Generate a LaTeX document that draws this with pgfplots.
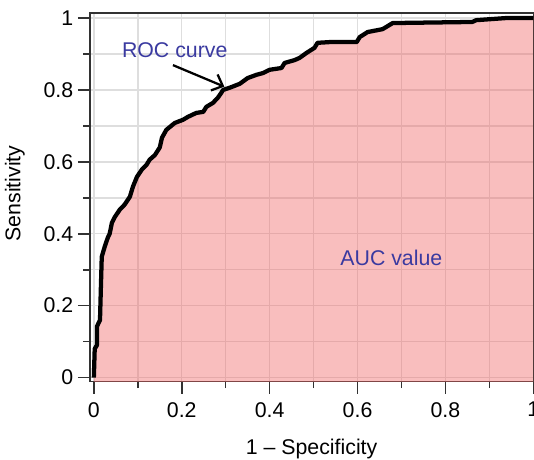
\documentclass[border=0pt]{standalone}
\usepackage{fontspec}
\setmainfont{Liberation Sans}
\usepackage{pgfplots}
\pgfplotsset{compat=1.18}
\usetikzlibrary{arrows.meta}

\definecolor{aucfill}{RGB}{240,100,100}
\definecolor{labelblue}{RGB}{58,58,160}
\definecolor{gridgray}{RGB}{222,222,222}
\definecolor{framegray}{RGB}{50,50,50}

\begin{document}
\begin{tikzpicture}
\begin{axis}[
    scale only axis,
    width=333pt, height=276.75pt,
    xmin=-0.009, xmax=1.0,
    ymin=-0.011, ymax=1.014,
    xtick={0,0.2,0.4,0.6,0.8,1},
    ytick={0,0.2,0.4,0.6,0.8,1},
    minor x tick num=1, minor y tick num=1,
    xtick pos=lower, ytick pos=left,
    tick align=outside,
    major tick length=9pt, minor tick length=5pt,
    every tick/.style={line width=1.2pt, color=framegray},
    grid=both,
    major grid style={gridgray, line width=1.1pt},
    minor grid style={gridgray, line width=1.1pt},
    axis line style={framegray, line width=1.2pt},
    /pgf/number format/assume math mode=true,
    tick label style={font=\fontsize{16}{19}\selectfont},
    xticklabel style={yshift=-3pt},
    label style={font=\fontsize{16}{19}\selectfont},
    xlabel={1 -- Specificity},
    ylabel={Sensitivity},
    xlabel style={at={(axis description cs:0.5,-0.198)}, anchor=base},
    ylabel style={at={(axis description cs:-0.169,0.51)}, anchor=center},
    clip=true,
]
% shaded area under the ROC curve
\addplot[fill=aucfill, fill opacity=0.42, draw=none] coordinates {
    (0,-0.03) (0,0) (0.002,0.08) (0.007,0.09) (0.007,0.142) (0.014,0.16)
    (0.016,0.25) (0.018,0.336) (0.025,0.365) (0.032,0.39) (0.036,0.40)
    (0.041,0.43) (0.048,0.447) (0.059,0.467) (0.070,0.481) (0.082,0.503)
    (0.089,0.531) (0.098,0.558) (0.109,0.578) (0.120,0.592) (0.127,0.606)
    (0.139,0.619) (0.150,0.64) (0.155,0.667) (0.165,0.689) (0.184,0.708)
    (0.203,0.717) (0.214,0.725) (0.233,0.736) (0.249,0.739) (0.256,0.753)
    (0.271,0.764) (0.282,0.778) (0.290,0.792) (0.294,0.8) (0.309,0.806)
    (0.332,0.817) (0.350,0.833) (0.370,0.842) (0.385,0.847) (0.400,0.856)
    (0.427,0.861) (0.434,0.875) (0.457,0.883) (0.468,0.889) (0.484,0.903)
    (0.502,0.917) (0.509,0.931) (0.536,0.933) (0.598,0.933) (0.605,0.947)
    (0.623,0.961) (0.657,0.969) (0.680,0.986) (0.861,0.989) (0.870,0.994)
    (0.939,1.0) (1,1) (1,-0.03)
} -- cycle;
% ROC curve
\addplot[black, line width=3.2pt, line join=round] coordinates {
    (0,0) (0.002,0.08) (0.007,0.09) (0.007,0.142) (0.014,0.16)
    (0.016,0.25) (0.018,0.336) (0.025,0.365) (0.032,0.39) (0.036,0.40)
    (0.041,0.43) (0.048,0.447) (0.059,0.467) (0.070,0.481) (0.082,0.503)
    (0.089,0.531) (0.098,0.558) (0.109,0.578) (0.120,0.592) (0.127,0.606)
    (0.139,0.619) (0.150,0.64) (0.155,0.667) (0.165,0.689) (0.184,0.708)
    (0.203,0.717) (0.214,0.725) (0.233,0.736) (0.249,0.739) (0.256,0.753)
    (0.271,0.764) (0.282,0.778) (0.290,0.792) (0.294,0.8) (0.309,0.806)
    (0.332,0.817) (0.350,0.833) (0.370,0.842) (0.385,0.847) (0.400,0.856)
    (0.427,0.861) (0.434,0.875) (0.457,0.883) (0.468,0.889) (0.484,0.903)
    (0.502,0.917) (0.509,0.931) (0.536,0.933) (0.598,0.933) (0.605,0.947)
    (0.623,0.961) (0.657,0.969) (0.680,0.986) (0.861,0.989) (0.870,0.994)
    (0.939,1.0) (1,1)
};
\draw[-{Straight Barb[length=7pt,width=13pt]}, line width=1.7pt]
    (axis cs:0.18,0.869) -- (axis cs:0.297,0.809);
\node[text=labelblue, font=\fontsize{16}{19}\selectfont] at (axis cs:0.184,0.911) {ROC curve};
\node[text=labelblue, font=\fontsize{16}{19}\selectfont] at (axis cs:0.677,0.333) {AUC value};
\coordinate (sw) at (rel axis cs:0,0);
\coordinate (ne) at (rel axis cs:1,1);
\end{axis}
\pgfresetboundingbox
\path[use as bounding box] ([xshift=-67.5pt,yshift=-58.5pt]sw) rectangle ([xshift=0.5pt,yshift=9.75pt]ne);
\end{tikzpicture}
\end{document}
